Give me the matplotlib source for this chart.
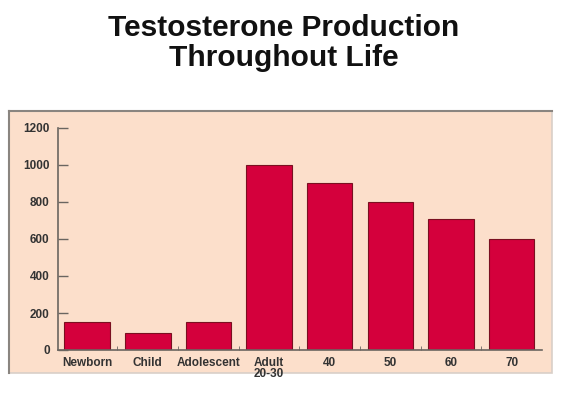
import numpy as np
from matplotlib import pyplot as plt
from matplotlib.patches import Rectangle

# 数据
categories = ['Newborn', 'Child', 'Adolescent', 'Adult\n20-30', '40', '50', '60', '70']
production = [150, 90, 150, 1000, 900, 800, 710, 600]
y_ticks = [0, 200, 400, 600, 800, 1000, 1200]

plt.rcParams['font.family'] = ['Liberation Sans', 'DejaVu Sans']

fig = plt.figure(figsize=(5.67, 3.93), dpi=100)
fig.patch.set_facecolor('white')

# 背景面板
W, H = 567.0, 393.0
panel = Rectangle((9 / W, 1 - 373 / H), (552 - 9) / W, (373 - 111) / H,
                  transform=fig.transFigure, facecolor='#fcdfcb',
                  edgecolor='#d9cfc8', linewidth=1.2, zorder=-5)
fig.add_artist(panel)
# 上边和左边的灰线
fig.add_artist(plt.Line2D([9 / W, 552 / W], [1 - 111 / H, 1 - 111 / H],
                          transform=fig.transFigure, color='#8a8580', lw=1.5, zorder=-4))
fig.add_artist(plt.Line2D([9 / W, 9 / W], [1 - 111 / H, 1 - 373 / H],
                          transform=fig.transFigure, color='#8a8580', lw=1.5, zorder=-4))

fig.text(0.5, 1 - 28 / H, 'Testosterone Production', ha='center', va='center',
         fontsize=21.5, fontweight='bold', color='#111111')
fig.text(0.5, 1 - 58 / H, 'Throughout Life', ha='center', va='center',
         fontsize=21.5, fontweight='bold', color='#111111')

ax = fig.add_axes([58 / W, 1 - 350 / H, (542 - 58) / W, (350 - 128) / H])
ax.set_zorder(2)
ax.set_facecolor('none')
x = np.arange(len(categories))
ax.bar(x, production, width=0.75, color='#d4003c', edgecolor='#7a1020', linewidth=0.8, zorder=2)

ax.set_xlim(-0.48, len(categories) - 0.5)
ax.set_ylim(0, 1200)
ax.set_yticks(y_ticks)
ax.set_yticklabels([str(v) for v in y_ticks], fontsize=8.5, fontweight='bold', color='#333333')
ax.set_xticks(x)
ax.set_xticklabels(categories, fontsize=8.5, fontweight='bold', color='#333333', linespacing=0.85)
ax.tick_params(axis='x', length=0, pad=5)
ax.tick_params(axis='y', direction='in', length=7, color='#6a6560', width=1, pad=6)
# 柱子之间的小刻度
ax.set_xticks(x[:-1] + 0.5, minor=True)
ax.tick_params(axis='x', which='minor', direction='in', length=3, color='#6a6560')

for s in ['top', 'right']:
    ax.spines[s].set_visible(False)
for s in ['left', 'bottom']:
    ax.spines[s].set_color('#6a6560')
    ax.spines[s].set_linewidth(1.2)

plt.savefig('out.png', dpi=100)
